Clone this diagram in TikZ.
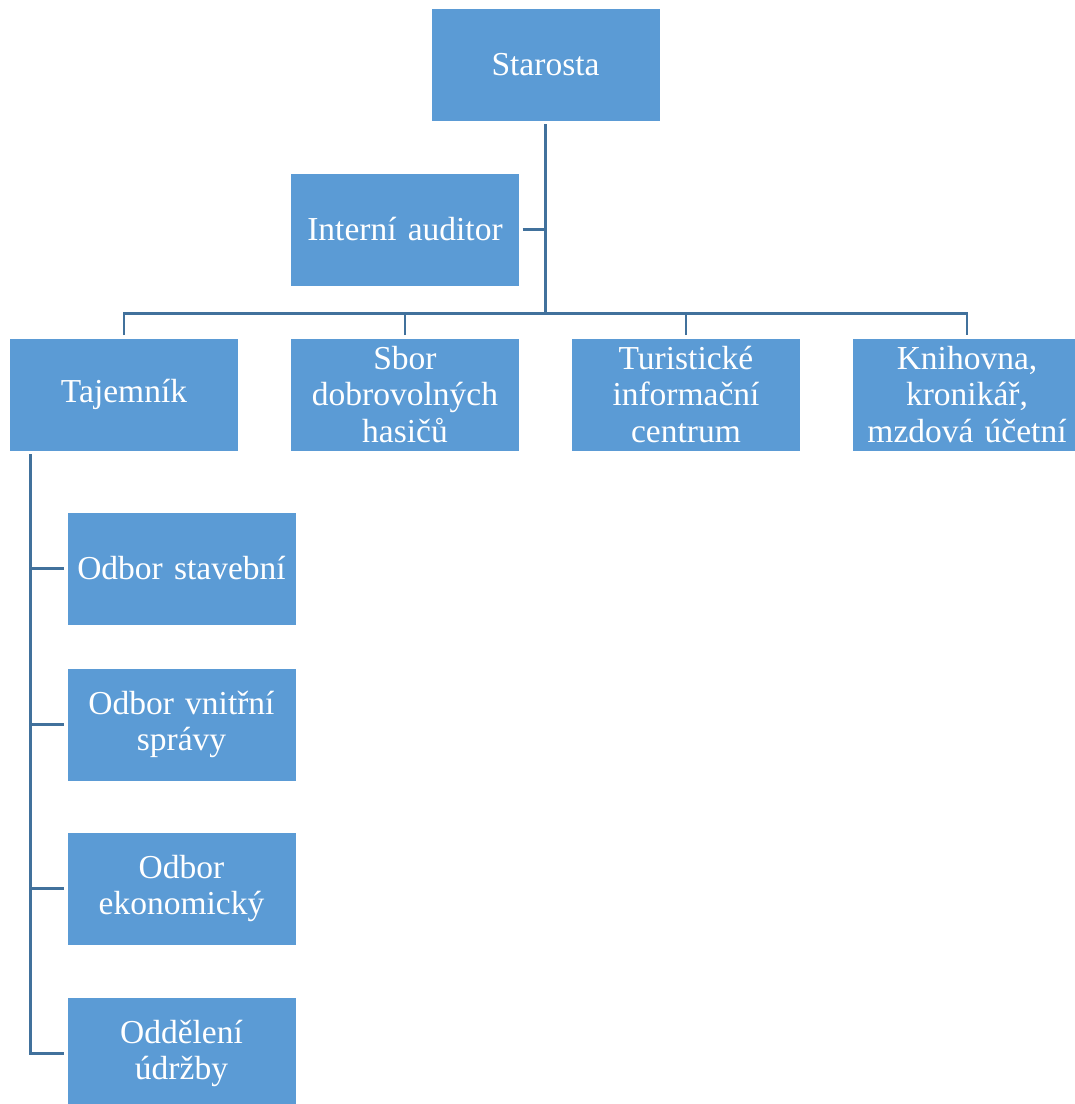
\documentclass[tikz,border=0pt]{standalone}
\usepackage{fontspec}
\setmainfont{Liberation Serif}
\usetikzlibrary{positioning}
\definecolor{boxblue}{RGB}{91,155,213}
\definecolor{lineblue}{RGB}{65,113,156}

\begin{document}
\begin{tikzpicture}
\tikzstyle{box}=[rectangle, fill=boxblue, draw=white, line width=0.6pt, minimum width=229pt, minimum height=113pt, text width=215pt, align=center, text=white, outer sep=3pt, font=\fontsize{33.5}{36.6}\selectfont, node distance=46pt]
\tikzstyle{connect}=[draw=lineblue, line width=2.6pt]
\useasboundingbox (-124pt,394.5pt) rectangle (951pt,-709.5pt);
\node[box] (Tajemnik) {Tajemník};
\node[box] (Sbor) [right=of Tajemnik] {Sbor\\dobrovolných\\hasičů};
\node[box] (Turist) [right=of Sbor] {Turistické\\informační\\centrum};
\node[box] (Knihovna) [right=of Turist] {Knihovna,\\kronikář,\\mzdová účetní};
\node[box] (Auditor) [above=of Sbor] {Interní auditor};
\node[box] (Starosta) [above=of Auditor, xshift=140.5pt] {Starosta};
\node[box] (Stavebni) [below=55pt of Tajemnik, xshift=57.5pt] {Odbor stavební};
\node[box] (Vnitrni) [below=37pt of Stavebni] {Odbor vnitřní\\správy};
\node[box] (Ekonom) [below=45pt of Vnitrni] {Odbor\\ekonomický};
\node[box] (Udrzba) [below=46pt of Ekonom] {Oddělení\\údržby};
\coordinate (Bus) at ([yshift=21.5pt]Sbor.north);
\coordinate (Trunk) at ([xshift=24pt]Tajemnik.south west);
  \draw[connect] (Starosta.south) -- (Starosta.south |- Bus);
  \draw[connect] (Auditor.east) -- (Auditor.east -| Starosta.south);
  \draw[connect] (Tajemnik.north) |- (Knihovna.north |- Bus) -- (Knihovna.north);
  \draw[connect] (Sbor.north) -- (Sbor.north |- Bus);
  \draw[connect] (Turist.north) -- (Turist.north |- Bus);
  \draw[connect] (Trunk) |- (Udrzba.west);
  \foreach \n in {Stavebni,Vnitrni,Ekonom}
    \draw[connect] (Trunk |- \n.west) -- (\n.west);
\end{tikzpicture}
\end{document}
